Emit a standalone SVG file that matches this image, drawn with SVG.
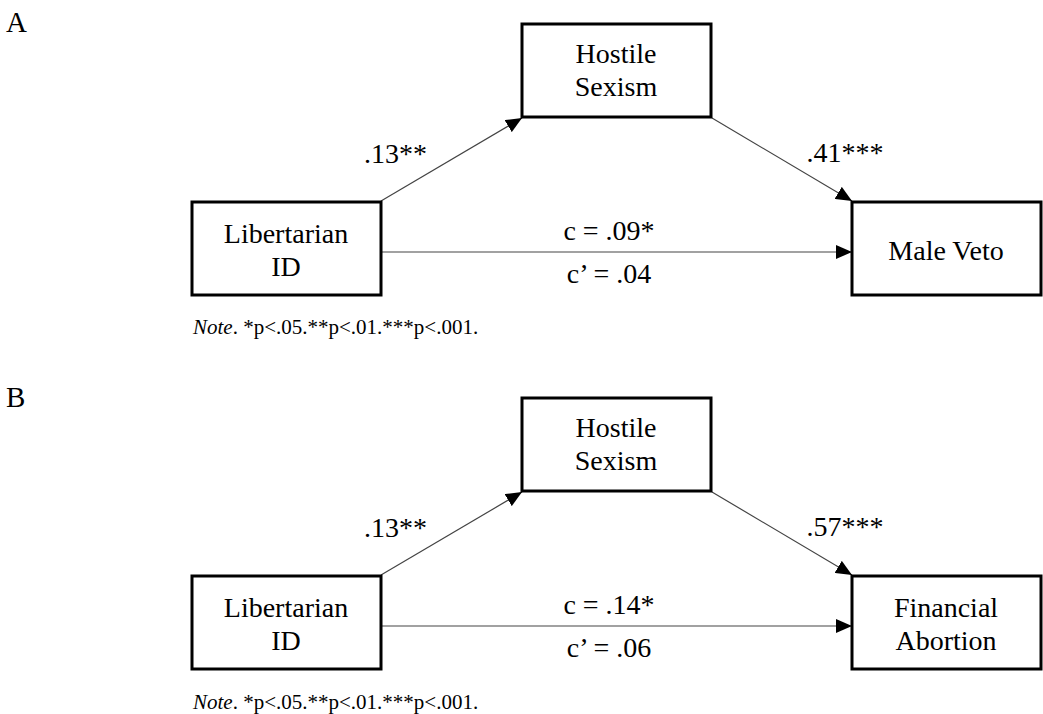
<svg xmlns="http://www.w3.org/2000/svg" width="1043" height="714" viewBox="0 0 1043 714" font-family="Liberation Serif, Tinos, Times New Roman, DejaVu Serif, serif">
<style>
.box{fill:#fff;stroke:#000;stroke-width:3}
.t{font-family:'Liberation Serif',Tinos,'Times New Roman','DejaVu Serif',serif;font-size:28px;fill:#000}
.m{text-anchor:middle}
.ln{stroke:#444;stroke-width:1.2;fill:none}
.pl{font-family:'Liberation Serif',Tinos,'Times New Roman','DejaVu Serif',serif;font-size:29px;fill:#000}
.note{font-family:'Liberation Serif',Tinos,'Times New Roman','DejaVu Serif',serif;font-size:21px;fill:#000}
</style>
<defs>
<marker id="ah" markerUnits="userSpaceOnUse" markerWidth="16" markerHeight="14" refX="16" refY="7" orient="auto">
<path d="M0,0 L16,7 L0,14 z" fill="#000"/>
</marker>
</defs>
<rect width="1043" height="714" fill="#fff"/>
<text class="pl" x="6" y="32">A</text>
<text class="pl" x="6" y="407">B</text>
<g id="connectors">
<line class="ln" x1="381" y1="201" x2="522" y2="118" marker-end="url(#ah)"/>
<line class="ln" x1="712" y1="118" x2="852" y2="201" marker-end="url(#ah)"/>
<line class="ln" x1="381" y1="252" x2="852" y2="252" marker-end="url(#ah)"/>
<line class="ln" x1="381" y1="575" x2="522" y2="492" marker-end="url(#ah)"/>
<line class="ln" x1="712" y1="492" x2="852" y2="575" marker-end="url(#ah)"/>
<line class="ln" x1="381" y1="626" x2="852" y2="626" marker-end="url(#ah)"/>
<text class="t m" x="395.5" y="163">.13**</text>
<text class="t m" x="845" y="162">.41***</text>
<text class="t m" x="609" y="240">c = .09*</text>
<text class="t m" x="609" y="283">c’ = .04</text>
<text class="t m" x="395.5" y="537">.13**</text>
<text class="t m" x="845" y="536">.57***</text>
<text class="t m" x="609" y="614">c = .14*</text>
<text class="t m" x="609" y="657">c’ = .06</text>
</g>
<g id="a-libertarian">
<rect class="box" x="192" y="202" width="189" height="93"/>
<text class="t m" x="286" y="243">Libertarian</text>
<text class="t m" x="286" y="276">ID</text>
</g>
<g id="a-hostile">
<rect class="box" x="522" y="24" width="189" height="93"/>
<text class="t m" x="616" y="63">Hostile</text>
<text class="t m" x="616" y="96">Sexism</text>
</g>
<g id="a-maleveto">
<rect class="box" x="852" y="202" width="189" height="93"/>
<text class="t m" x="946" y="260">Male Veto</text>
</g>
<text class="note" x="193" y="334"><tspan font-style="italic">Note</tspan>. *p&lt;.05.**p&lt;.01.***p&lt;.001.</text>
<g id="b-libertarian">
<rect class="box" x="192" y="576" width="189" height="93"/>
<text class="t m" x="286" y="617">Libertarian</text>
<text class="t m" x="286" y="650">ID</text>
</g>
<g id="b-hostile">
<rect class="box" x="522" y="398" width="189" height="93"/>
<text class="t m" x="616" y="437">Hostile</text>
<text class="t m" x="616" y="470">Sexism</text>
</g>
<g id="b-financial">
<rect class="box" x="852" y="576" width="189" height="93"/>
<text class="t m" x="946" y="617">Financial</text>
<text class="t m" x="946" y="650">Abortion</text>
</g>
<text class="note" x="193" y="709"><tspan font-style="italic">Note</tspan>. *p&lt;.05.**p&lt;.01.***p&lt;.001.</text>
</svg>
